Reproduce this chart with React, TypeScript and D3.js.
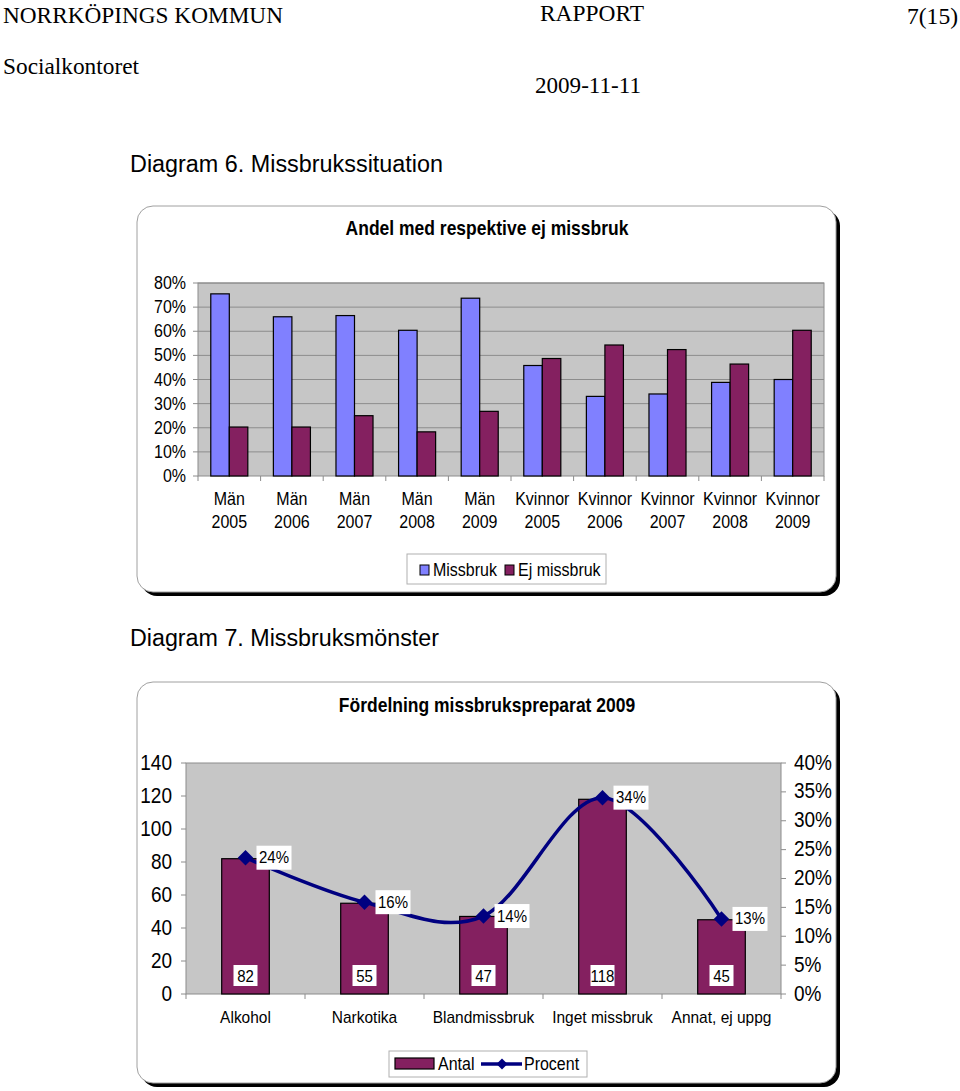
import * as d3 from 'd3';
import type { ReactNode } from 'react';

// ---- data: Diagram 6 ----
const groups1 = ['Män 2005', 'Män 2006', 'Män 2007', 'Män 2008', 'Män 2009', 'Kvinnor 2005', 'Kvinnor 2006', 'Kvinnor 2007', 'Kvinnor 2008', 'Kvinnor 2009'];
const series1 = ['Missbruk', 'Ej missbruk'];
const missbruk = [0.755, 0.66, 0.665, 0.604, 0.737, 0.458, 0.33, 0.34, 0.388, 0.4];
const ejMissbruk = [0.203, 0.203, 0.25, 0.183, 0.268, 0.487, 0.543, 0.524, 0.464, 0.604];
const ticks1 = [0, 0.1, 0.2, 0.3, 0.4, 0.5, 0.6, 0.7, 0.8];

// ---- data: Diagram 7 ----
const cats2 = ['Alkohol', 'Narkotika', 'Blandmissbruk', 'Inget missbruk', 'Annat, ej uppg'];
const antal = [82, 55, 47, 118, 45];
const procent = [0.236, 0.159, 0.135, 0.34, 0.13];
const ticksLeft2 = [0, 20, 40, 60, 80, 100, 120, 140];
const ticksRight2 = [0, 0.05, 0.1, 0.15, 0.2, 0.25, 0.3, 0.35, 0.4];

const blue = '#8080FF';
const plum = '#842060';
const navy = '#000080';
const plotBg = '#C6C6C6';
const grid = '#8C8C8C';
const sans = '"Liberation Sans", Arial, sans-serif';
const serif = '"Liberation Serif", "Times New Roman", serif';

// the source pdf text is a bit taller than normal, so stretch vertically
const SY = 1.12;

function T({ x, y, size, anchor = 'start', bold = false, children }: { x: number; y: number; size: number; anchor?: string; bold?: boolean; children: ReactNode }) {
	return (
		<text transform={`translate(${x},${y}) scale(1,${SY})`} fontSize={size} textAnchor={anchor} fontWeight={bold ? 'bold' : undefined}>
			{children}
		</text>
	);
}

function ChartBox({ x, y, w, h }: { x: number; y: number; w: number; h: number }) {
	return (
		<g>
			<rect x={x + 4} y={y + 4} width={w} height={h} rx={16} fill="black" />
			<rect x={x} y={y} width={w} height={h} rx={16} fill="white" stroke="#A0A0A0" strokeWidth={1} />
		</g>
	);
}

function Chart1() {
	const plot = { left: 198, right: 824, top: 283, bottom: 476 };
	const x = d3.scaleBand<string>().domain(groups1).range([plot.left, plot.right]);
	const xs = d3.scaleBand<string>().domain(series1).range([0, x.bandwidth()]).paddingOuter(0.69);
	const y = d3.scaleLinear().domain([0, 0.8]).range([plot.bottom, plot.top]);
	const vals = [missbruk, ejMissbruk];
	const colors = [blue, plum];
	const fmt = d3.format('.0%');

	return (
		<g fontFamily={sans}>
			<ChartBox x={137} y={206} w={699} h={386} />
			<T x={487} y={235} size={17.5} anchor="middle" bold>Andel med respektive ej missbruk</T>
			<rect x={plot.left} y={plot.top} width={plot.right - plot.left} height={plot.bottom - plot.top} fill={plotBg} />
			{ticks1.map((t) => (
				<g key={t}>
					{t > 0 && <line x1={plot.left} x2={plot.right} y1={y(t)} y2={y(t)} stroke={grid} />}
					<line x1={plot.left - 5} x2={plot.left} y1={y(t)} y2={y(t)} stroke={grid} />
					<T x={186} y={y(t) + 6} size={16} anchor="end">{fmt(t)}</T>
				</g>
			))}
			<rect x={plot.left} y={plot.top} width={plot.right - plot.left} height={plot.bottom - plot.top} fill="none" stroke={grid} />
			{groups1.map((g, i) => (
				<g key={g}>
					<line x1={x(g)!} x2={x(g)!} y1={plot.bottom} y2={plot.bottom + 5} stroke={grid} />
					{series1.map((s, j) => (
						<rect
							key={s}
							x={x(g)! + xs(s)!}
							y={y(vals[j][i])}
							width={xs.bandwidth()}
							height={plot.bottom - y(vals[j][i])}
							fill={colors[j]}
							stroke="black"
							strokeWidth={1.2}
						/>
					))}
					<T x={x(g)! + x.bandwidth() / 2} y={505} size={16} anchor="middle">{g.split(' ')[0]}</T>
					<T x={x(g)! + x.bandwidth() / 2} y={528} size={16} anchor="middle">{g.split(' ')[1]}</T>
				</g>
			))}
			<line x1={plot.right} x2={plot.right} y1={plot.bottom} y2={plot.bottom + 5} stroke={grid} />
			{/* legend */}
			<rect x={407} y={554} width={199} height={30} fill="white" stroke="#B0B0B0" />
			<rect x={420} y={565} width={9} height={10} fill={blue} stroke="black" />
			<T x={433} y={576} size={16}>Missbruk</T>
			<rect x={505} y={565} width={9} height={10} fill={plum} stroke="black" />
			<T x={518} y={576} size={16}>Ej missbruk</T>
		</g>
	);
}

function Chart2() {
	const plot = { left: 186, right: 781, top: 763, bottom: 994 };
	const x = d3.scaleBand<string>().domain(cats2).range([plot.left, plot.right]).paddingInner(0.6).paddingOuter(0.3);
	const step = x.step();
	const cx = (c: string) => x(c)! + x.bandwidth() / 2;
	const yL = d3.scaleLinear().domain([0, 140]).range([plot.bottom, plot.top]);
	const yR = d3.scaleLinear().domain([0, 0.4]).range([plot.bottom, plot.top]);
	const line = d3
		.line<number>()
		.x((_, i) => cx(cats2[i]))
		.y((d) => yR(d))
		.curve(d3.curveCardinal.tension(0));
	const fmt = d3.format('.0%');
	const diamond = d3.symbol(d3.symbolSquare, 120);

	return (
		<g fontFamily={sans}>
			<ChartBox x={137} y={682} w={699} h={401} />
			<T x={487} y={712} size={17.5} anchor="middle" bold>Fördelning missbrukspreparat 2009</T>
			<rect x={plot.left} y={plot.top} width={plot.right - plot.left} height={plot.bottom - plot.top} fill={plotBg} stroke={grid} />
			{ticksLeft2.map((t) => (
				<g key={t}>
					<line x1={plot.left - 5} x2={plot.left} y1={yL(t)} y2={yL(t)} stroke={grid} />
					<T x={172} y={yL(t) + 6.5} size={19}>{''}</T>
					<T x={172} y={yL(t) + 6.5} size={19} anchor="end">{t}</T>
				</g>
			))}
			{ticksRight2.map((t) => (
				<g key={t}>
					<line x1={plot.right} x2={plot.right + 5} y1={yR(t)} y2={yR(t)} stroke={grid} />
					<T x={794} y={yR(t) + 6.5} size={19}>{fmt(t)}</T>
				</g>
			))}
			{cats2.map((c, i) => (
				<line key={c} x1={plot.left + i * step} x2={plot.left + i * step} y1={plot.bottom} y2={plot.bottom + 5} stroke={grid} />
			))}
			<line x1={plot.right} x2={plot.right} y1={plot.bottom} y2={plot.bottom + 5} stroke={grid} />
			{cats2.map((c, i) => (
				<g key={c}>
					<rect x={x(c)!} y={yL(antal[i])} width={x.bandwidth()} height={plot.bottom - yL(antal[i])} fill={plum} stroke="black" strokeWidth={1.2} />
					<T x={cx(c)} y={1023} size={15.5} anchor="middle">{c}</T>
				</g>
			))}
			<path d={line(procent)!} fill="none" stroke={navy} strokeWidth={3.5} />
			{cats2.map((c, i) => (
				<g key={c}>
					<path d={diamond()!} transform={`translate(${cx(c)},${yR(procent[i])}) rotate(45)`} fill={navy} />
					<rect x={cx(c) + 11} y={yR(procent[i]) - 12} width={35} height={24} fill="white" />
					<T x={cx(c) + 28.5} y={yR(procent[i]) + 5.5} size={15} anchor="middle">{fmt(procent[i])}</T>
					<rect x={cx(c) - 12} y={965} width={24} height={21} fill="white" />
					<T x={cx(c)} y={982} size={15} anchor="middle">{antal[i]}</T>
				</g>
			))}
			{/* legend */}
			<rect x={389} y={1051} width={198} height={26} fill="white" stroke="#B0B0B0" />
			<rect x={395} y={1058} width={39} height={11} fill={plum} stroke="black" strokeWidth={1.2} />
			<T x={438} y={1070} size={16}>Antal</T>
			<line x1={481} x2={522} y1={1064} y2={1064} stroke={navy} strokeWidth={3.5} />
			<path d={d3.symbol(d3.symbolSquare, 60)()!} transform="translate(502,1064) rotate(45)" fill={navy} />
			<T x={524} y={1070} size={16}>Procent</T>
		</g>
	);
}

export default function App() {
	return (
		<svg width={960} height={1091} viewBox="0 0 960 1091" style={{ position: 'absolute', left: 0, top: 0, background: 'white' }}>
			<g fontFamily={serif} fontSize={23}>
				<text x={3} y={23} textLength={280} lengthAdjust="spacingAndGlyphs">NORRKÖPINGS KOMMUN</text>
				<text x={540} y={21} textLength={104} lengthAdjust="spacingAndGlyphs">RAPPORT</text>
				<text x={907} y={24} textLength={51} lengthAdjust="spacingAndGlyphs">7(15)</text>
				<text x={3} y={74} textLength={136} lengthAdjust="spacingAndGlyphs">Socialkontoret</text>
				<text x={535} y={93} textLength={106} lengthAdjust="spacingAndGlyphs">2009-11-11</text>
			</g>
			<g fontFamily={sans} fontSize={23}>
				<text x={130} y={172} textLength={313} lengthAdjust="spacingAndGlyphs">Diagram 6. Missbrukssituation</text>
				<text x={130} y={646} textLength={309} lengthAdjust="spacingAndGlyphs">Diagram 7. Missbruksmönster</text>
			</g>
			<Chart1 />
			<Chart2 />
		</svg>
	);
}
